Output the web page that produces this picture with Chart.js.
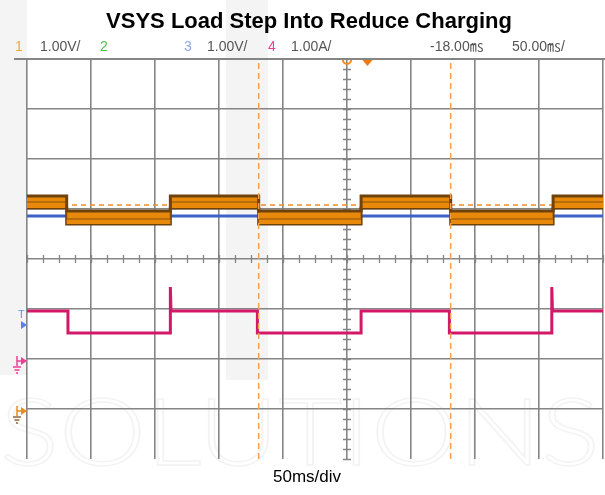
<!DOCTYPE html>
<html>
<head>
<meta charset="utf-8">
<script src="https://cdn.jsdelivr.net/npm/chart.js@4.4.1/dist/chart.umd.min.js"></script>
<style>
  html, body { margin: 0; padding: 0; background: #fff; }
  #scope { display: block; }
</style>
</head>
<body>
<canvas id="scope" width="605" height="495"></canvas>
<script>
// Scope capture: VSYS load step. x in ms from left edge of screen (50 ms/div),
// y in screen divisions from the bottom graticule line (8 divs tall).

// ch1 (VSYS, orange) - noisy band, upper and lower envelope
const ch1Time   = [0, 31, 31, 112, 112, 181, 181, 261, 261, 331, 331, 411, 411, 450];
const ch1Upper  = [5.26, 5.26, 4.96, 4.96, 5.26, 5.26, 4.96, 4.96, 5.26, 5.26, 4.96, 4.96, 5.26, 5.26];
const ch1Lower  = [5.02, 5.02, 4.70, 4.70, 5.02, 5.02, 4.70, 4.70, 5.02, 5.02, 4.70, 4.70, 5.02, 5.02];
const ch1Mid    = [5.14, 5.14, 4.80, 4.80, 5.14, 5.14, 4.80, 4.80, 5.14, 5.14, 4.80, 4.80, 5.14, 5.14];

// ch3 (blue) - flat
const ch3Time = [0, 450];
const ch3Level = [4.86, 4.86];

// ch4 (current, pink) - load step with spikes on the rising edge
const ch4Time  = [0, 32, 32, 112, 112, 112.5, 180, 180, 261, 261, 330, 330, 410, 410, 410.5, 450];
const ch4Level = [2.96, 2.96, 2.52, 2.52, 3.44, 2.96, 2.96, 2.52, 2.52, 2.96, 2.96, 2.52, 2.52, 3.44, 2.96, 2.96];

// cursors
const cursorTimes = [181, 331];
const cursorLevel = 5.08;

// header readouts
const header = [
  { text: '1', color: '#f5a542', x: 15 },
  { text: '1.00V/', color: '#555', x: 40 },
  { text: '2', color: '#4cc24c', x: 100 },
  { text: '3', color: '#8ea6ee', x: 184 },
  { text: '1.00V/', color: '#555', x: 207 },
  { text: '4', color: '#ee3f93', x: 268 },
  { text: '1.00A/', color: '#555', x: 291 },
  { text: '-18.00\u33B3', color: '#555', x: 430 },
  { text: '50.00\u33B3/', color: '#555', x: 512 }
];

const pts = (xs, ys) => xs.map((x, i) => ({ x, y: ys[i] }));

const ORANGE = '#e8890c';
const BROWN = '#6e420c';
const GRID = '#858585';

const scopePlugin = {
  id: 'scopeDecor',
  beforeDraw(chart) {
    const ctx = chart.ctx;
    ctx.save();
    ctx.fillStyle = '#fff';
    ctx.fillRect(0, 0, chart.width, chart.height);
    // faint watermark
    ctx.fillStyle = '#f4f4f4';
    ctx.fillRect(0, 0, 27, 375);
    ctx.fillRect(226, 0, 42, 380);
    ctx.font = '300 92px Lato, "Open Sans", sans-serif';
    const w = ctx.measureText('SOLUTIONS').width;
    ctx.translate(0, 465);
    ctx.scale(600 / w, 1);
    ctx.strokeStyle = '#f3f3f3';
    ctx.lineWidth = 1.5;
    ctx.strokeText('SOLUTIONS', 0, 0);
    ctx.restore();
  },
  beforeDatasetsDraw(chart) {
    const ctx = chart.ctx;
    const xs = chart.scales.x, ys = chart.scales.y;
    const cx = xs.getPixelForValue(250), cy = ys.getPixelForValue(4);
    ctx.save();
    ctx.strokeStyle = GRID;
    ctx.lineWidth = 1.3;
    ctx.beginPath();
    for (let t = 0; t <= 450; t += 12.5) {
      const px = Math.round(xs.getPixelForValue(t)) + 0.5;
      ctx.moveTo(px, cy - 4); ctx.lineTo(px, cy + 4);
    }
    for (let v = 0; v <= 8; v += 0.2) {
      const py = Math.round(ys.getPixelForValue(v)) + 0.5;
      ctx.moveTo(cx - 4, py); ctx.lineTo(cx + 4, py);
    }
    ctx.stroke();
    ctx.restore();
  },
  afterDraw(chart) {
    const ctx = chart.ctx;
    const xs = chart.scales.x, ys = chart.scales.y;
    const top = ys.getPixelForValue(8);
    ctx.save();
    // top frame line
    ctx.strokeStyle = GRID;
    ctx.lineWidth = 2;
    ctx.beginPath();
    ctx.moveTo(14, top); ctx.lineTo(605, top);
    ctx.stroke();

    // title
    ctx.fillStyle = '#000';
    ctx.textBaseline = 'alphabetic';
    ctx.textAlign = 'center';
    ctx.font = 'bold 22px "Liberation Sans", Arial, sans-serif';
    ctx.fillText('VSYS Load Step Into Reduce Charging', 309, 28);

    // header readouts
    ctx.textAlign = 'left';
    ctx.font = '14px "Liberation Sans", "Noto Sans CJK JP", sans-serif';
    header.forEach(h => {
      ctx.fillStyle = h.color;
      ctx.fillText(h.text, h.x, 51);
    });

    // bottom label
    ctx.fillStyle = '#000';
    ctx.textAlign = 'center';
    ctx.font = '17px "Liberation Sans", Arial, sans-serif';
    ctx.fillText('50ms/div', 307, 482);

    // trigger position markers at top
    const tx = xs.getPixelForValue(250);
    ctx.strokeStyle = '#f08a1c';
    ctx.lineWidth = 2;
    ctx.beginPath();
    ctx.arc(tx, top + 1, 4, 0, Math.PI);
    ctx.stroke();
    const dx = xs.getPixelForValue(266);
    ctx.fillStyle = '#f07a10';
    ctx.beginPath();
    ctx.moveTo(dx - 5, top + 1); ctx.lineTo(dx + 5, top + 1); ctx.lineTo(dx, top + 7);
    ctx.closePath(); ctx.fill();

    // left channel markers
    const lx = xs.getPixelForValue(0);
    ctx.fillStyle = '#6a8ee8';
    ctx.font = '11px "Liberation Sans", sans-serif';
    ctx.textAlign = 'left';
    ctx.fillText('T', 18, 318);
    const arrow = (y, color) => {
      ctx.fillStyle = color;
      ctx.beginPath();
      ctx.moveTo(lx - 6, y - 4); ctx.lineTo(lx, y); ctx.lineTo(lx - 6, y + 4);
      ctx.closePath(); ctx.fill();
    };
    arrow(ys.getPixelForValue(2.68), '#5a82e6');
    const ground = (y, color, gcolor) => {
      arrow(y, color);
      ctx.strokeStyle = color;
      ctx.lineWidth = 1.5;
      ctx.beginPath();
      ctx.moveTo(17, y - 5); ctx.lineTo(17, y + 5);
      ctx.moveTo(17, y); ctx.lineTo(lx - 5, y);
      ctx.stroke();
      ctx.strokeStyle = gcolor;
      ctx.beginPath();
      ctx.moveTo(13, y + 6); ctx.lineTo(21, y + 6);
      ctx.moveTo(14.5, y + 9); ctx.lineTo(19.5, y + 9);
      ctx.moveTo(16, y + 12); ctx.lineTo(18, y + 12);
      ctx.stroke();
    };
    ground(ys.getPixelForValue(1.96), '#ee3f93', '#ee3f93');
    ground(ys.getPixelForValue(0.96), '#f08a1c', '#8a6a40');
    ctx.restore();
  }
};

const line = (data, color, width, extra) => Object.assign({
  data, borderColor: color, borderWidth: width, pointRadius: 0, fill: false, tension: 0
}, extra || {});

new Chart(document.getElementById('scope'), {
  type: 'line',
  data: {
    datasets: [
      // cursors on top
      ...cursorTimes.map(t => line(pts([t, t], [0, 8]), '#f5a04a', 1.5, { borderDash: [6, 4], order: 0 })),
      line(pts(ch4Time, ch4Level), '#d41868', 3, { order: 1 }),
      line(pts(ch1Time, ch1Mid), 'rgba(120,70,10,0.55)', 1.5, { order: 2 }),
      line(pts(ch1Time, ch1Upper), BROWN, 3, { fill: '+1', backgroundColor: ORANGE, order: 3 }),
      line(pts(ch1Time, ch1Lower), BROWN, 3, { order: 3 }),
      line(pts([0, 450], [cursorLevel, cursorLevel]), '#f08c2a', 1.3, { borderDash: [5, 4], order: 4 }),
      line(pts(ch3Time, ch3Level), '#3d62c9', 3, { order: 5 })
    ]
  },
  options: {
    responsive: false,
    devicePixelRatio: 1,
    animation: false,
    layout: { padding: { left: 27, right: 2, top: 59, bottom: 36 } },
    plugins: { legend: { display: false }, tooltip: { enabled: false }, title: { display: false } },
    scales: {
      x: {
        type: 'linear', min: 0, max: 450,
        ticks: { display: false, stepSize: 50 },
        border: { display: false },
        grid: { color: GRID, lineWidth: 1.6, drawTicks: false }
      },
      y: {
        type: 'linear', min: 0, max: 8,
        ticks: { display: false, stepSize: 1 },
        border: { display: false },
        grid: {
          color: c => (c.tick && (c.tick.value === 0 || c.tick.value === 8)) ? 'rgba(0,0,0,0)' : GRID,
          lineWidth: 1.6, drawTicks: false
        }
      }
    }
  },
  plugins: [scopePlugin]
});
</script>
</body>
</html>
